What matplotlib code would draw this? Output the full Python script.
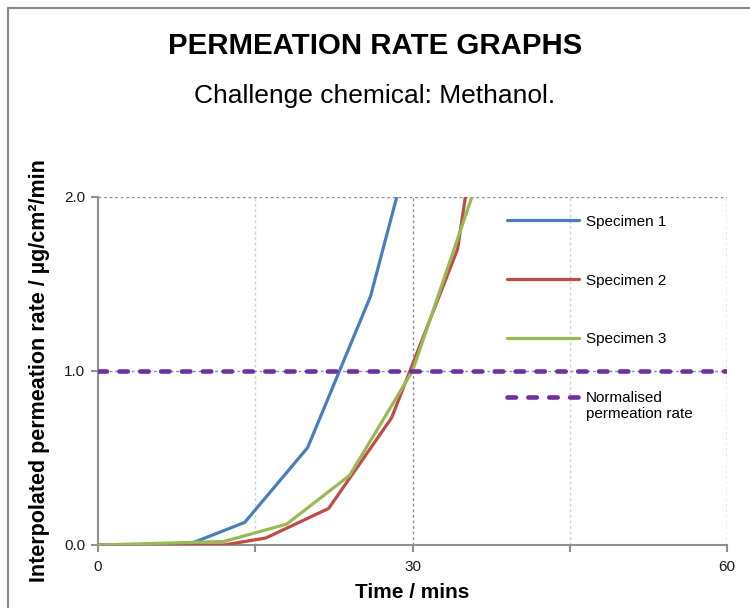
import matplotlib
matplotlib.use("Agg")
import numpy as np
import matplotlib.pyplot as plt
from matplotlib.lines import Line2D
from matplotlib.legend_handler import HandlerLine2D

plt.rcParams['font.family'] = ['Liberation Sans', 'DejaVu Sans']

# Data
s1_time = [0, 8.5, 14, 20, 26, 32]
s1_rate = [0.0, 0.0, 0.13, 0.56, 1.43, 2.80]
s2_time = [0, 12, 16, 22, 28, 34.3, 40]
s2_rate = [0.0, 0.0, 0.04, 0.21, 0.73, 1.70, 4.0]
s3_time = [0, 12, 18, 24, 30, 36]
s3_rate = [0.0, 0.02, 0.12, 0.40, 1.00, 2.06]
norm_time = [0, 60]
norm_rate = [1.0, 1.0]

labels = ["Specimen 1", "Specimen 2", "Specimen 3", "Normalised\npermeation rate"]
colors = ["#4A7EBB", "#BE4B48", "#98B954", "#7030A0"]


class TopLineHandler(HandlerLine2D):
    """Place the legend line level with the first line of a two-line label."""
    def create_artists(self, legend, orig_handle, xdescent, ydescent, width, height, fontsize, trans):
        artists = super().create_artists(legend, orig_handle, xdescent, ydescent, width, height, fontsize, trans)
        for a in artists:
            if isinstance(a, Line2D):
                a.set_ydata(np.asarray(a.get_ydata(), dtype=float) + 0.62 * fontsize)
        return artists


fig = plt.figure(figsize=(7.5, 6.08), dpi=100)
ax = fig.add_axes([98/750, 1-545/608, (727-98)/750, (545-197)/608])

# Gridlines
for xv, c in [(15, '#d0d0d0'), (45, '#d0d0d0'), (30, '#909090'), (60, '#909090')]:
    ax.axvline(xv, color=c, lw=1.0, ls=(0, (2, 2)), zorder=0)
for yv in [1.0, 2.0]:
    ax.axhline(yv, color='#909090', lw=1.0, ls=(0, (2, 2)), zorder=0)

lw = 2.3
ax.plot(s1_time, s1_rate, color=colors[0], lw=lw, solid_joinstyle='round', solid_capstyle='round', label=labels[0], zorder=3)
ax.plot(s2_time, s2_rate, color=colors[1], lw=lw, solid_joinstyle='round', solid_capstyle='round', label=labels[1], zorder=3)
ax.plot(s3_time, s3_rate, color=colors[2], lw=lw, solid_joinstyle='round', solid_capstyle='round', label=labels[2], zorder=4)
norm_line, = ax.plot(norm_time, norm_rate, color=colors[3], lw=3.3, ls=(0, (1.85, 2.7)),
                     dash_capstyle='round', label=labels[3], zorder=5)

ax.set_xlim(0, 60)
ax.set_ylim(0, 2.0)
ax.set_xticks([0, 30, 60])
ax.set_xticks([15, 45], minor=True)
ax.set_yticks([0, 1, 2])
ax.set_yticklabels(['0.0', '1.0', '2.0'])
ax.tick_params(axis='both', which='both', direction='out', length=5, width=1.5, color='#909090',
               labelsize=11, labelcolor='#1a1a1a', pad=4)
ax.tick_params(axis='x', which='major', pad=6)

for s in ['top', 'right']:
    ax.spines[s].set_visible(False)
for s in ['left', 'bottom']:
    ax.spines[s].set_color('#909090')
    ax.spines[s].set_linewidth(1.5)

ax.set_xlabel("Time / mins", fontsize=15, fontweight='bold', labelpad=6)
ax.set_ylabel("Interpolated permeation rate / µg/cm²/min", fontsize=15.5, fontweight='bold', labelpad=10)

leg = ax.legend(loc='upper left', bbox_to_anchor=(0.65, 0.949), frameon=False, fontsize=11,
                handlelength=4.7, handletextpad=0.46, labelspacing=2.93, borderpad=0, borderaxespad=0,
                handler_map={norm_line: TopLineHandler()})

fig.text(0.5, 1-46/608, "PERMEATION RATE GRAPHS", ha='center', va='center', fontsize=21.2, fontweight='bold')
fig.text(0.5, 1-96/608, "Challenge chemical: Methanol.", ha='center', va='center', fontsize=19)

# Outer chart frame (top and left edges)
fig.add_artist(Line2D([7.5/750, 7.5/750], [0, 1-7.5/608], transform=fig.transFigure, color='#8a8a8a', lw=1.5))
fig.add_artist(Line2D([7.5/750, 1], [1-7.5/608, 1-7.5/608], transform=fig.transFigure, color='#8a8a8a', lw=1.5))

fig.savefig("out.png", dpi=100)
